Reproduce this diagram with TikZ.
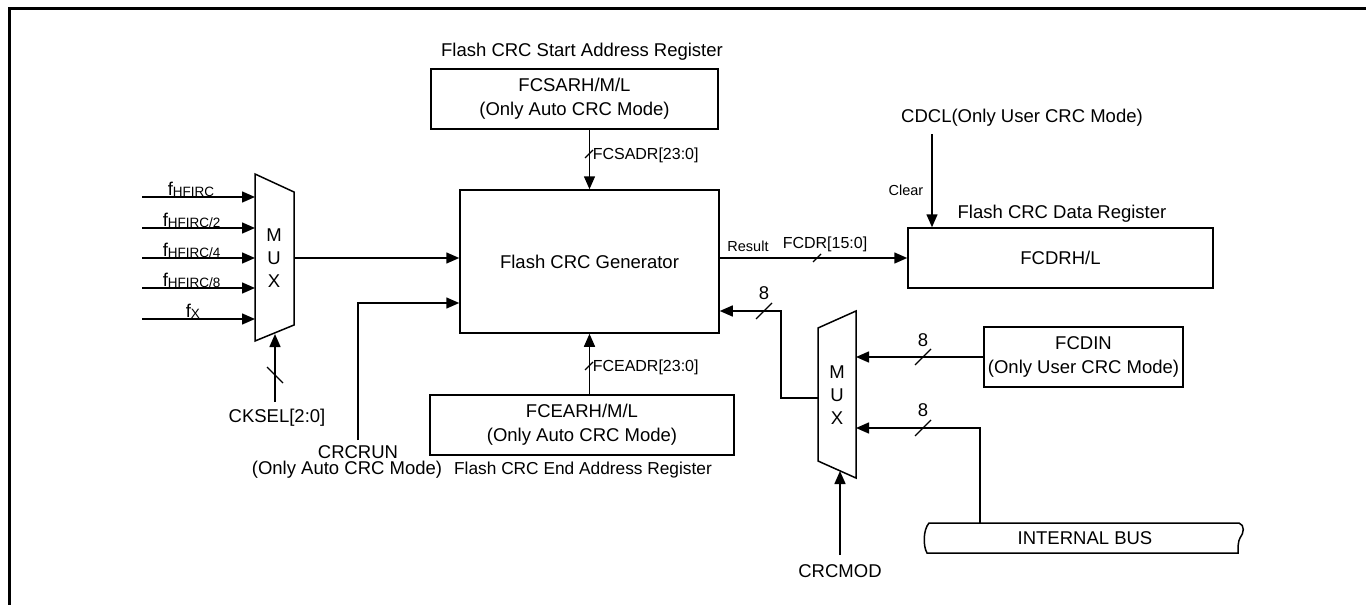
\documentclass[tikz,border=0pt]{standalone}
\usepackage{fontspec}
\setmainfont{Liberation Sans}
\usetikzlibrary{arrows.meta}
\begin{document}
\begin{tikzpicture}[x=1pt,y=-1pt,
  line width=1.5pt,
  arr/.style={-{Triangle[length=13pt,width=11pt]}},
  big/.style={font=\fontsize{18.5}{24}\selectfont},
  mid/.style={font=\fontsize{16}{20}\selectfont},
  small/.style={font=\fontsize{14.5}{16}\selectfont},
  box/.style={draw,minimum width=#1,minimum height=60pt,inner sep=0pt,align=center,big},
  txt/.style={inner sep=0pt,big},
  slash/.style={line width=1.3pt},
  muxshape/.style={draw,line join=miter},
]
\useasboundingbox (0,0) rectangle (1366,605);
% outer frame
\draw[line width=3pt] (9,605) -- (9,8) -- (1366,8);

% boxes
\node[box=287] (sar) at (574.5,99) {FCSARH/M/L\\(Only Auto CRC Mode)};
\node[txt] (sarlbl) at (582,52) {Flash CRC Start Address Register};
\node[draw,minimum width=259pt,minimum height=143pt,txt] (gen) at (589.5,261.5) {Flash CRC Generator};
\node[box=304] (ear) at (582,425) {FCEARH/M/L\\(Only Auto CRC Mode)};
\node[inner sep=0pt,font=\fontsize{17.3}{20}\selectfont] (earlbl) at (583,470) {Flash CRC End Address Register};
\node[box=305] (dr) at (1060.5,258) {FCDRH/L};
\node[txt] (drlbl) at (1062,214) {Flash CRC Data Register};
\node[box=199] (din) at (1083.5,357) {FCDIN\\(Only User CRC Mode)};

% left mux
\draw[muxshape] (255,174) -- (294,192) -- (294,325) -- (255,341) -- cycle;
\node[txt] (m1m) at (274,235) {M};
\node[txt] (m1u) at (274,258) {U};
\node[txt] (m1x) at (274,281) {X};
\coordinate (m1in1) at (255,197);
\coordinate (m1in2) at (255,228);
\coordinate (m1in3) at (255,258);
\coordinate (m1in4) at (255,288);
\coordinate (m1in5) at (255,319);
\coordinate (m1out) at (294,258);
\coordinate (m1sel) at (275,334);

% right mux
\draw[muxshape] (818,328) -- (856,311) -- (856,478) -- (818,461) -- cycle;
\node[txt] (m2m) at (837,372) {M};
\node[txt] (m2u) at (837,395) {U};
\node[txt] (m2x) at (837,418) {X};
\coordinate (m2in1) at (856,357);
\coordinate (m2in2) at (856,428);
\coordinate (m2out) at (818,398);
\coordinate (m2sel) at (840,471);

% clock inputs
\coordinate (f1) at (142,197);
\coordinate (f2) at (142,228);
\coordinate (f3) at (142,258);
\coordinate (f4) at (142,288);
\coordinate (f5) at (142,319);
\draw[arr] (f1) -- (m1in1);
\draw[arr] (f2) -- (m1in2);
\draw[arr] (f3) -- (m1in3);
\draw[arr] (f4) -- (m1in4);
\draw[arr] (f5) -- (m1in5);
\node[anchor=base west,inner sep=0pt,big] (l1) at (167,195) {f{\fontsize{13.5}{14}\selectfont\raisebox{-1.5pt}{HFIRC}}};
\node[anchor=base west,inner sep=0pt,big] (l2) at (162,226) {f{\fontsize{13.5}{14}\selectfont\raisebox{-1.5pt}{HFIRC/2}}};
\node[anchor=base west,inner sep=0pt,big] (l3) at (162,256) {f{\fontsize{13.5}{14}\selectfont\raisebox{-1.5pt}{HFIRC/4}}};
\node[anchor=base west,inner sep=0pt,big] (l4) at (162,286) {f{\fontsize{13.5}{14}\selectfont\raisebox{-1.5pt}{HFIRC/8}}};
\node[anchor=base west,inner sep=0pt,big] (l5) at (185,317) {f{\fontsize{13.5}{14}\selectfont\raisebox{-1.5pt}{X}}};

% mux output to generator
\draw[arr] (m1out) -- (gen.west |- m1out);

% CKSEL
\coordinate (cksel) at (275,402);
\draw[arr] (cksel) -- (m1sel);
\draw[slash] (275,375) ++(-8,-8) -- ++(16,16);
\node[txt] (ckselt) at (277,418) {CKSEL[2:0]};

% CRCRUN
\coordinate (crcrun) at (358,440);
\coordinate (genrun) at (460,303);
\draw[arr] (crcrun) |- (gen.west |- genrun);
\node[txt] (crcrunt) at (358,452) {CRCRUN};
\node[txt] (crcrunt2) at (347,470) {(Only Auto CRC Mode)};

% start / end address
\draw[arr] (gen.north |- sar.south) -- (gen.north);
\draw[slash] (589,154) ++(-4,4) -- ++(8,-8);
\node[anchor=west,inner sep=0pt,mid] (fcsadr) at (592,155) {FCSADR[23:0]};
\draw[arr] (gen.south |- ear.north) -- (gen.south);
\draw[slash] (589,366) ++(-4,4) -- ++(8,-8);
\node[anchor=west,inner sep=0pt,mid] (fceadr) at (592,367) {FCEADR[23:0]};

% result
\draw[arr] (gen.east |- dr.west) -- (dr.west);
\draw[slash] (817,258) ++(-4,4) -- ++(8,-8);
\node[inner sep=0pt,small] (res) at (748,246) {Result};
\node[inner sep=0pt,mid] (fcdr) at (825,244) {FCDR[15:0]};

% clear
\coordinate (cdcl) at (932,134);
\draw[arr] (cdcl) -- (cdcl |- dr.north);
\node[txt] (cdclt) at (1022,118) {CDCL(Only User CRC Mode)};
\node[inner sep=0pt,small] (clr) at (906,190) {Clear};

% right mux output to generator
\coordinate (bend) at (781,311);
\draw[arr] (m2out) -| (bend) -- (gen.east |- bend);
\draw[slash] (764,311) ++(-8,8) -- ++(16,-16);
\node[txt] (n8a) at (764,293) {8};

% FCDIN to mux
\draw[arr] (din.west) -- (m2in1);
\draw[slash] (923,357) ++(-8,8) -- ++(16,-16);
\node[txt] (n8b) at (923,340) {8};

% internal bus
\draw (929,523) -- (1239,523)
  .. controls (1245,525) and (1244,533) .. (1240,538)
  .. controls (1238,541) and (1238,548) .. (1238,553)
  -- (927,553) .. controls (923,546) and (923,530) .. (929,523) -- cycle;
\node[txt] (bus) at (1085,538) {INTERNAL BUS};
\coordinate (bustap) at (980,523);
\draw[arr] (bustap) |- (m2in2);
\draw[slash] (923,428) ++(-8,8) -- ++(16,-16);
\node[txt] (n8c) at (923,410) {8};

% CRCMOD
\coordinate (crcmod) at (840,555);
\draw[arr] (crcmod) -- (m2sel);
\node[txt] (crcmodt) at (840,571) {CRCMOD};
\end{tikzpicture}
\end{document}
